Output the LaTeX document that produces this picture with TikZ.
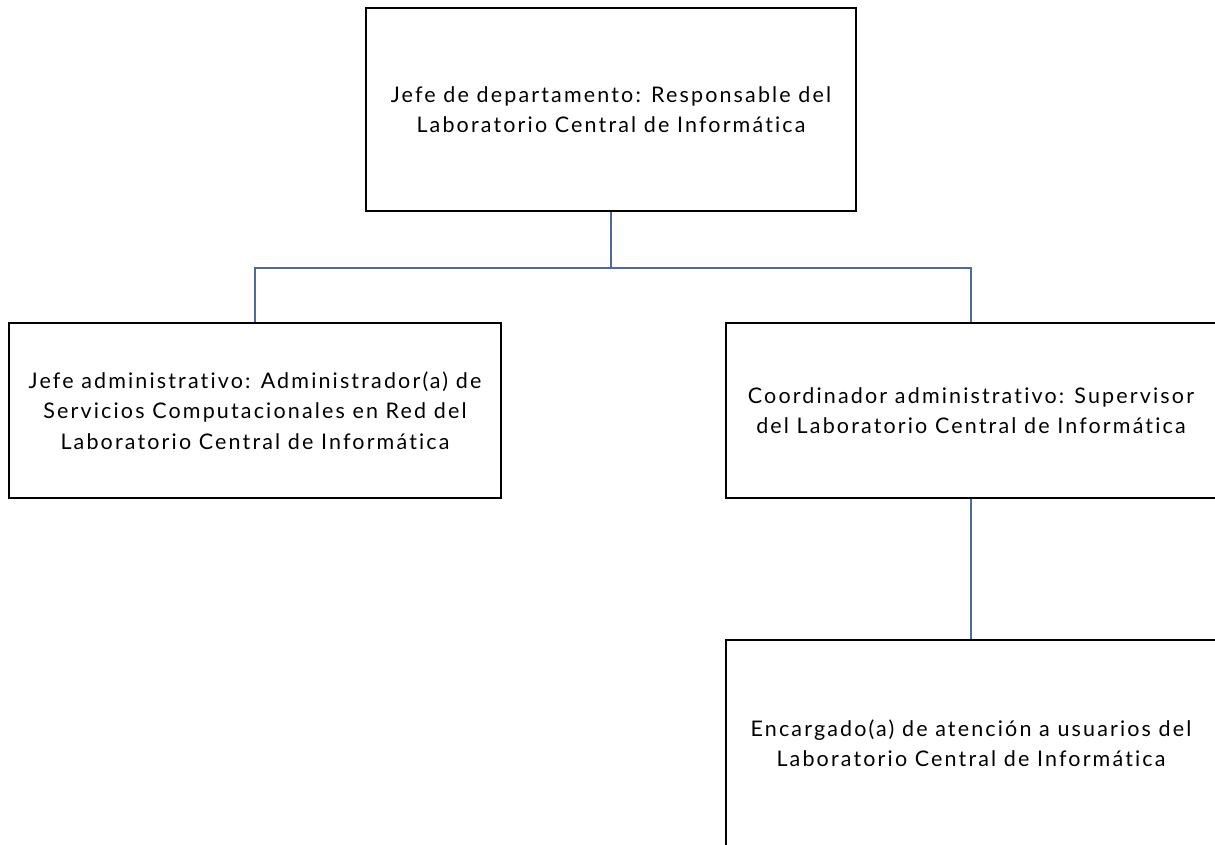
\documentclass[tikz,border=0pt]{standalone}
\usepackage{fontspec}
\setmainfont{Lato}[LetterSpace=10,Ligatures={NoCommon}]
\begin{document}
\begin{tikzpicture}[x=1pt,y=-1pt,
  box/.style={draw=black,line width=1.6pt,fill=none,inner sep=0pt,align=center,
    font=\fontsize{21.5}{30.5}\selectfont},
  link/.style={draw={rgb,255:red,79;green,106;blue,159},line width=1.1pt}]
\useasboundingbox[fill=white] (0,0) rectangle (1215,844);
\node[box,minimum width=490pt,minimum height=203pt] (top) at (611,109.5)
  {Jefe de departamento: Responsable del\\Laboratorio Central de Informática};
\node[box,minimum width=492pt,minimum height=175pt] (left) at (255,410.5)
  {Jefe administrativo: Administrador(a) de\\Servicios Computacionales en Red del\\Laboratorio Central de Informática};
\node[box,minimum width=490pt,minimum height=175pt] (right) at (971,410.5)
  {Coordinador administrativo: Supervisor\\del Laboratorio Central de Informática};
\node[box,minimum width=490pt,minimum height=206pt] (bottom) at (971,743)
  {Encargado(a) de atención a usuarios del\\Laboratorio Central de Informática};
\coordinate (bus) at (611,268);
\draw[link] (top.south) -- (bus) -| (left.north);
\draw[link] (bus) -| (right.north);
\draw[link] (right.south) -- (bottom.north);
\end{tikzpicture}
\end{document}
